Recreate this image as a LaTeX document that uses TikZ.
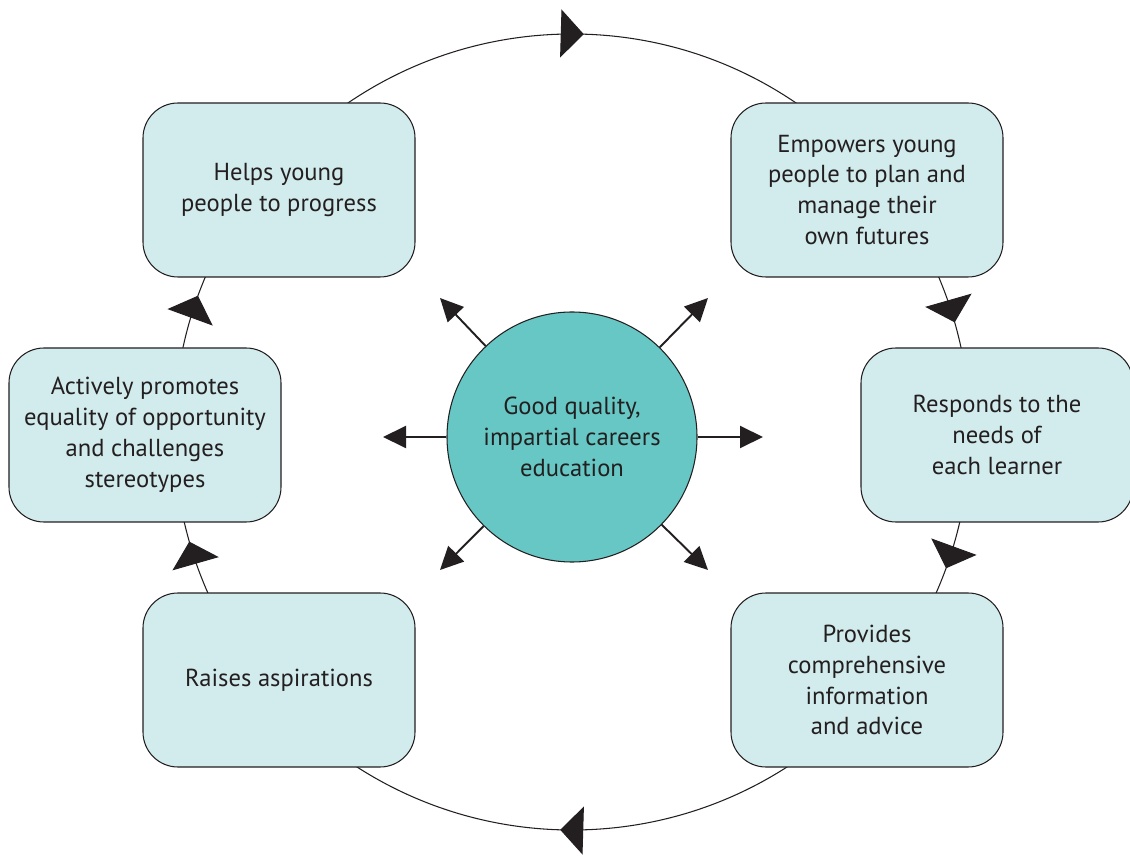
\documentclass[tikz,border=0pt]{standalone}
\usepackage{fontspec}
\setmainfont{PT Sans}
\usepackage{tikz}
\usetikzlibrary{arrows.meta, decorations.markings}

\definecolor{boxfill}{HTML}{D2EBEC}
\definecolor{hubfill}{HTML}{66C7C4}
\definecolor{ink}{HTML}{231F20}

\begin{document}
\begin{tikzpicture}[
    font=\fontsize{14}{17.6}\selectfont, color=ink,
    cyclebox/.style={draw=ink, rectangle, rounded corners=0.7cm,
        fill=boxfill, line width=0.6pt, align=center,
        minimum width=5.44cm, minimum height=3.48cm},
    spoke/.style={draw=ink, line width=1.1pt,
        -{Triangle[length=0.46cm, width=0.44cm]}},
  ]
    \useasboundingbox (0,0) rectangle (22.6,17.14);

    % ring with the big arrow heads, drawn clockwise from the left
    \coordinate (Ring) at (11.44, 8.5);
    \draw[ink, line width=0.6pt,
          decoration={markings,
            mark=at position 0.0556 with {\arrow{Triangle[length=0.46cm, width=0.96cm]}},
            mark=at position 0.2547 with {\arrow{Triangle[length=0.46cm, width=0.96cm]}},
            mark=at position 0.4556 with {\arrow{Triangle[length=0.46cm, width=0.96cm]}},
            mark=at position 0.5556 with {\arrow{Triangle[length=0.46cm, width=0.96cm]}},
            mark=at position 0.7547 with {\arrow{Triangle[length=0.46cm, width=0.96cm]}},
            mark=at position 0.9556 with {\arrow{Triangle[length=0.46cm, width=0.96cm]}}},
          postaction={decorate}]
        (Ring) ++(180:7.96) arc[start angle=180, end angle=-180, radius=7.96];

    \node[cyclebox] (Helps) at (5.58, 13.34) {Helps young\\people to progress};
    \node[cyclebox] (Empower) at (17.34, 13.34)
        {Empowers young\\people to plan and\\manage their\\own futures};
    \node[cyclebox] (Equality) at (2.9, 8.44)
        {Actively promotes\\equality of opportunity\\and challenges\\stereotypes};
    \node[cyclebox] (Needs) at (19.94, 8.44)
        {Responds to the\\needs of\\each learner};
    \node[cyclebox] (Aspire) at (5.58, 3.54) {Raises aspirations};
    \node[cyclebox] (Inform) at (17.34, 3.54)
        {Provides\\comprehensive\\information\\and advice};

    \node[draw=ink, circle, fill=hubfill, line width=0.6pt,
          minimum size=5cm, align=center]
        (Hub) at (11.44, 8.4) {Good quality,\\impartial careers\\education};

    % spokes out of the hub
    \coordinate (tW) at (7.66, 8.4);
    \coordinate (tE) at (15.26, 8.4);
    \coordinate (tNW) at (8.8, 11.18);
    \coordinate (tNE) at (14.16, 11.18);
    \coordinate (tSW) at (8.8, 5.74);
    \coordinate (tSE) at (14.16, 5.74);
    \foreach \t in {tW, tE, tNW, tNE, tSW, tSE}
        \path[spoke] (Hub) -- (\t);
\end{tikzpicture}
\end{document}
